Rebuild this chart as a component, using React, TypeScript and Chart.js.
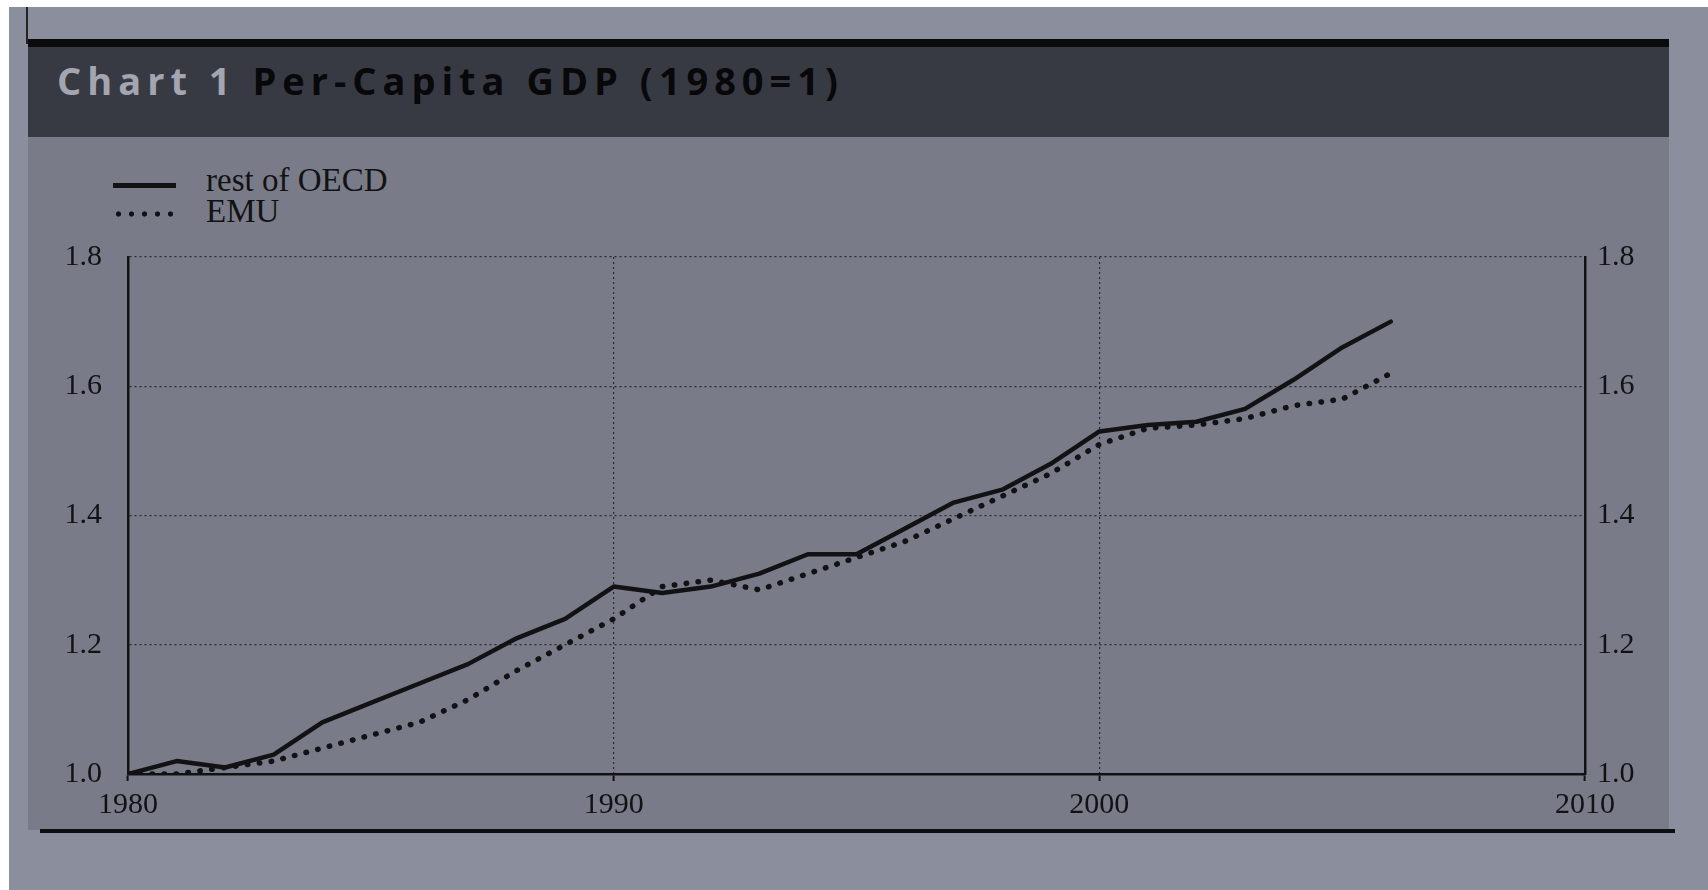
import React, { useEffect, useRef } from "react";
import { Chart, registerables } from "chart.js";

Chart.register(...registerables);

// ---- data ----
const years = [
  1980, 1981, 1982, 1983, 1984, 1985, 1986, 1987, 1988, 1989,
  1990, 1991, 1992, 1993, 1994, 1995, 1996, 1997, 1998, 1999,
  2000, 2001, 2002, 2003, 2004, 2005, 2006,
];
const restOfOECD = [
  1.0, 1.02, 1.01, 1.03, 1.08, 1.11, 1.14, 1.17, 1.21, 1.24,
  1.29, 1.28, 1.29, 1.31, 1.34, 1.34, 1.38, 1.42, 1.44, 1.48,
  1.53, 1.54, 1.545, 1.565, 1.61, 1.66, 1.7,
];
const emu = [
  1.0, 1.0, 1.01, 1.02, 1.04, 1.06, 1.08, 1.115, 1.16, 1.2,
  1.24, 1.29, 1.3, 1.285, 1.31, 1.335, 1.36, 1.395, 1.43, 1.465,
  1.51, 1.535, 1.54, 1.55, 1.57, 1.58, 1.62,
];
const seriesNames = ["rest of OECD", "EMU"];
const xTickValues = [1980, 1990, 2000, 2010];
const yTickValues = [1.0, 1.2, 1.4, 1.6, 1.8];
const titleLead = "Chart 1";
const titleMain = "Per-Capita GDP (1980=1)";

const OUTER = "#8b8e9c";
const PANEL = "#797c88";
const TITLEBAR = "#373a43";
const INK = "#121214";
const GRID = "#2a2b31";
const SERIF = "'Liberation Serif', 'DejaVu Serif', serif";

export default function App() {
  const ref = useRef<HTMLCanvasElement>(null);

  useEffect(() => {
    const canvas = ref.current;
    if (!canvas) return;
    const chart = new Chart(canvas, {
      type: "line",
      data: {
        datasets: [
          {
            label: seriesNames[0],
            data: years.map((y, i) => ({ x: y, y: restOfOECD[i] })),
            borderColor: INK,
            borderWidth: 4.5,
            pointRadius: 0,
            tension: 0,
            fill: false,
            borderJoinStyle: "round",
            borderCapStyle: "round",
            yAxisID: "y",
          },
          {
            label: seriesNames[1],
            data: years.map((y, i) => ({ x: y, y: emu[i] })),
            borderColor: INK,
            borderWidth: 5.5,
            borderDash: [0.5, 11.5],
            borderCapStyle: "round",
            pointRadius: 0,
            tension: 0,
            fill: false,
            yAxisID: "y",
          },
        ],
      },
      options: {
        responsive: false,
        animation: false,
        layout: { padding: { top: 257, left: 0, right: 0, bottom: 0 } },
        plugins: {
          legend: { display: false },
          title: { display: false },
          tooltip: { enabled: false },
        },
        scales: {
          x: {
            type: "linear",
            min: xTickValues[0],
            max: xTickValues[xTickValues.length - 1],
            position: "bottom",
            afterFit: (s: any) => {
              s.height = 116;
            },
            afterBuildTicks: (s: any) => {
              s.ticks = xTickValues.map((v) => ({ value: v }));
            },
            ticks: {
              callback: (v: any) => String(v),
              font: { family: SERIF, size: 30 },
              color: INK,
              padding: 6,
              maxRotation: 0,
              autoSkip: false,
            },
            grid: {
              color: (ctx: any) =>
                ctx.tick && (ctx.tick.value === 1990 || ctx.tick.value === 2000)
                  ? GRID
                  : "rgba(0,0,0,0)",
              lineWidth: 1.2,
              tickColor: INK,
              tickLength: 7,
              tickWidth: 2,
              tickBorderDash: [],
            },
            border: { display: true, color: INK, width: 2.5, dash: [2, 3] as any },
          },
          y: {
            type: "linear",
            min: yTickValues[0],
            max: yTickValues[yTickValues.length - 1],
            position: "left",
            afterFit: (s: any) => {
              s.width = 128;
            },
            afterBuildTicks: (s: any) => {
              s.ticks = yTickValues.map((v) => ({ value: v }));
            },
            ticks: {
              callback: (v: any) => Number(v).toFixed(1),
              font: { family: SERIF, size: 30 },
              color: INK,
              padding: 26,
            },
            grid: {
              drawTicks: false,
              color: (ctx: any) =>
                ctx.tick && ctx.tick.value > 1.01 ? GRID : "rgba(0,0,0,0)",
              lineWidth: 1.2,
            },
            border: { display: true, color: INK, width: 2.5, dash: [2, 3] as any },
          },
          y2: {
            type: "linear",
            min: yTickValues[0],
            max: yTickValues[yTickValues.length - 1],
            position: "right",
            afterFit: (s: any) => {
              s.width = 123;
            },
            afterBuildTicks: (s: any) => {
              s.ticks = yTickValues.map((v) => ({ value: v }));
            },
            ticks: {
              callback: (v: any) => Number(v).toFixed(1),
              font: { family: SERIF, size: 30 },
              color: INK,
              padding: 12,
            },
            grid: { drawOnChartArea: false, drawTicks: false },
            border: { display: true, color: INK, width: 2.5 },
          },
        },
      },
    } as any);
    return () => chart.destroy();
  }, []);

  return (
    <div
      style={{
        position: "fixed",
        left: 0,
        top: 0,
        width: 1708,
        height: 890,
        background: "#ffffff",
        overflow: "hidden",
      }}
    >
      <div style={{ position: "absolute", left: 9, top: 7, right: 0, bottom: 0, background: OUTER }} />
      <div style={{ position: "absolute", left: 26, top: 7, width: 2, height: 37, background: "#222" }} />
      <div style={{ position: "absolute", left: 28, top: 39, width: 1641, height: 791, background: PANEL }} />
      <div style={{ position: "absolute", left: 28, top: 39, width: 1641, height: 8, background: "#0b0b0e" }} />
      <div style={{ position: "absolute", left: 28, top: 47, width: 1641, height: 90, background: TITLEBAR }} />
      <div style={{ position: "absolute", left: 40, top: 829, width: 1635, height: 4, background: "#0e0e10" }} />
      <div
        style={{
          position: "absolute",
          left: 57,
          top: 57,
          height: 46,
          lineHeight: "46px",
          fontFamily: "'Open Sans', 'DejaVu Sans', sans-serif",
          fontWeight: 700,
          fontSize: 38,
          letterSpacing: "6px",
          whiteSpace: "nowrap",
        }}
      >
        <span style={{ color: "#a3a6b0" }}>{titleLead}</span>
        <span style={{ display: "inline-block", width: 16 }} />
        <span style={{ color: "#08080a" }}>{titleMain}</span>
      </div>
      {/* legend */}
      <div style={{ position: "absolute", left: 113, top: 183, width: 63, height: 4.5, background: INK }} />
      <div
        style={{
          position: "absolute",
          left: 112,
          top: 211,
          width: 66,
          height: 6,
          backgroundImage: `radial-gradient(circle, ${INK} 2.3px, rgba(0,0,0,0) 2.9px)`,
          backgroundSize: "13px 6px",
        }}
      />
      <div
        style={{
          position: "absolute",
          left: 206,
          top: 162,
          lineHeight: "36px",
          fontFamily: SERIF,
          fontSize: 33,
          color: INK,
          whiteSpace: "nowrap",
        }}
      >
        {seriesNames[0]}
      </div>
      <div
        style={{
          position: "absolute",
          left: 206,
          top: 193,
          lineHeight: "36px",
          fontFamily: SERIF,
          fontSize: 33,
          color: INK,
          whiteSpace: "nowrap",
        }}
      >
        {seriesNames[1]}
      </div>
      <canvas
        ref={ref}
        width={1708}
        height={890}
        style={{ position: "absolute", left: 0, top: 0, width: 1708, height: 890 }}
      />
    </div>
  );
}
